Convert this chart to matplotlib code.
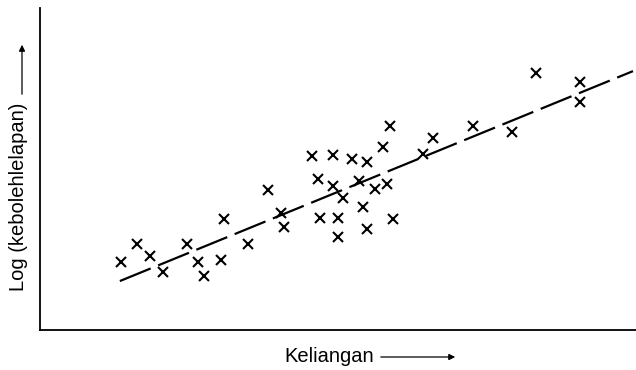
import numpy as np
import matplotlib
matplotlib.use("Agg")
from matplotlib import pyplot as plt

# scatter points (arbitrary units)
kel_x = [1.36, 1.63, 1.85, 2.06, 2.47, 2.65, 2.75, 3.04, 3.09, 3.49,
         3.83, 4.04, 4.09, 4.56, 4.66, 4.70, 4.92, 4.92, 5.00, 5.00,
         5.08, 5.23, 5.35, 5.42, 5.49, 5.49, 5.62, 5.76, 5.82, 5.87,
         5.92, 6.43, 6.59, 7.27, 7.92, 8.32, 9.06, 9.06]
log_y = [2.11, 2.67, 2.30, 1.80, 2.67, 2.11, 1.68, 2.17, 3.45, 2.67,
         4.35, 3.63, 3.20, 5.40, 4.69, 3.48, 5.43, 4.47, 3.48, 2.89,
         4.10, 5.31, 4.63, 3.82, 5.22, 3.14, 4.38, 5.68, 4.53, 6.34,
         3.45, 5.47, 5.96, 6.34, 6.15, 7.98, 7.70, 7.08]

# trend line end points
line_x = [1.34, 9.95]
line_y = [1.52, 8.04]

plt.rcParams['font.family'] = ['Liberation Sans', 'DejaVu Sans']

fig = plt.figure(figsize=(6.36, 3.70), dpi=100)
ax = fig.add_axes([40/636, 40/370, 596/636, 322/370])

ax.plot(line_x, line_y, color="black", lw=1.6, dashes=(15, 3.6))
ax.plot(kel_x, log_y, ls="none", marker="x", color="black",
        markersize=6.5, mew=1.5)

ax.set_xlim(0, 10)
ax.set_ylim(0, 10)
ax.set_xticks([])
ax.set_yticks([])
for s in ["top", "right"]:
    ax.spines[s].set_visible(False)
ax.spines["left"].set_linewidth(1.3)
ax.spines["bottom"].set_linewidth(1.3)

# axis labels with arrows
fig.text(284/636, 1 - 356/370, "Keliangan", fontsize=14.5,
         ha="left", va="center")
fig.text(19/636, 1 - 197/370, "Log (kebolehlelapan)", fontsize=14.5,
         rotation=90, ha="center", va="center")
fig.add_artist(matplotlib.patches.FancyArrowPatch(
    (378/636, 1 - 357/370), (458/636, 1 - 357/370),
    transform=fig.transFigure, arrowstyle="-|>", mutation_scale=9,
    color="black", lw=0.9))
fig.add_artist(matplotlib.patches.FancyArrowPatch(
    (22/636, 1 - 97/370), (22/636, 1 - 42/370),
    transform=fig.transFigure, arrowstyle="-|>", mutation_scale=9,
    color="black", lw=0.9))

fig.savefig("out.png", dpi=100, facecolor="white")
